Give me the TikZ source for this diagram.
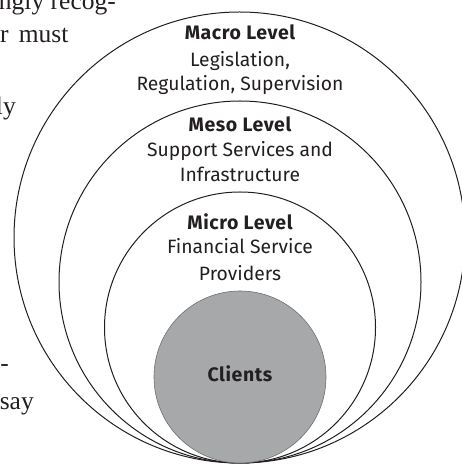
\documentclass[tikz,border=0pt]{standalone}
\usepackage{fontspec}
\setmainfont{Liberation Serif}
\newfontfamily\diagfont{Fira Sans}
\definecolor{ink}{HTML}{231F20}
\definecolor{clientgray}{HTML}{A7A8AA}
\definecolor{clientedge}{HTML}{6D6E71}
\begin{document}
\begin{tikzpicture}[x=1pt,y=1pt,
  ring/.style={circle, draw=ink, line width=1pt, inner sep=0pt},
  lbl/.style={inner sep=0pt, anchor=base, text=ink, font=\diagfont\fontsize{19.3}{22}\selectfont},
  bold/.style={lbl, font=\diagfont\bfseries\fontsize{19.5}{22}\selectfont\addfontfeature{LetterSpace=3}},
  body/.style={inner sep=0pt, anchor=base east, text=ink, font=\fontsize{25.5}{28}\selectfont}
]
\useasboundingbox (0,0) rectangle (461,465);
% circles (tangent at bottom point)
\node[ring, minimum size=451pt] (macro) at (239.5,227.5) {};
\node[ring, minimum size=362pt] (meso) at (240,183) {};
\node[ring, minimum size=271pt] (micro) at (240,137.5) {};
\node[circle, fill=clientgray, draw=clientedge, line width=0.6pt, inner sep=0pt, minimum size=172pt] (clients) at (240,88) {};
% labels
\node[bold] (macroT) at (240,425) {Macro Level};
\node[lbl] (macroA) at (240,398.5) {Legislation,};
\node[lbl] (macroB) at (240,374.5) {Regulation, Supervision};
\node[bold] (mesoT) at (240,333.5) {Meso Level};
\node[lbl] (mesoA) at (240,308) {Support Services and};
\node[lbl] (mesoB) at (240,283.5) {Infrastructure};
\node[bold] (microT) at (240,235) {Micro Level};
\node[lbl] (microA) at (240,211) {Financial Service};
\node[lbl] (microB) at (240,184.5) {Providers};
\node[bold] (clientsT) at (240,83) {Clients};
% surrounding body text fragments (cut off at the left edge)
\node[body] (t1) at (116,455) {increasingly recog-};
\node[body, anchor=base west] (t2) at (0,422) {r\hspace{0.4em}must};
\node[body] (t3) at (16,350) {ly};
\node[body] (t4) at (9,93) {n-};
\node[body] (t5) at (34,55) {say};
\end{tikzpicture}
\end{document}
